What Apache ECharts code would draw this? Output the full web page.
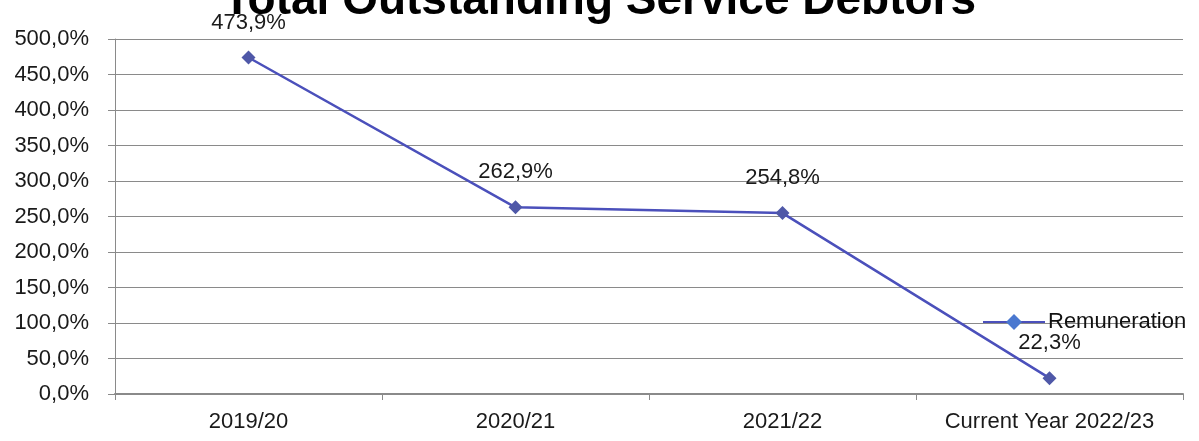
<!DOCTYPE html>
<html>
<head>
<meta charset="utf-8">
<title>Total Outstanding Service Debtors</title>
<script src="https://cdn.jsdelivr.net/npm/echarts@6/dist/echarts.min.js"></script>
<style>
  html, body { margin: 0; padding: 0; background: #ffffff; }
  #chart { width: 1199px; height: 441px; }
</style>
</head>
<body>
<div id="chart"></div>
<script>
// Outstanding service debtors as a share, by financial year
const categories = ['2019/20', '2020/21', '2021/22', 'Current Year 2022/23'];
const remuneration = [473.9, 262.9, 254.8, 22.3];

const fmtPct = v => v.toFixed(1).replace('.', ',') + '%';
const font = 'Liberation Sans, Arial, sans-serif';

const chart = echarts.init(document.getElementById('chart'));
chart.setOption({
  backgroundColor: '#ffffff',
  animation: false,
  title: {
    text: 'Total Outstanding Service Debtors',
    left: 'center',
    top: -27,
    textStyle: { fontFamily: font, fontSize: 46, fontWeight: 'bold', color: '#000000' }
  },
  legend: {
    left: 977,
    top: 306,
    itemWidth: 62,
    itemHeight: 20,
    itemGap: 0,
    itemStyle: { color: '#4a78d0' },
    textStyle: { fontFamily: font, fontSize: 22, color: '#111111', padding: [0, 0, 0, -2] },
    data: ['Remuneration']
  },
  grid: { left: 115, right: 16, top: 39, bottom: 47 },
  xAxis: {
    type: 'category',
    data: categories,
    boundaryGap: true,
    axisLine: { lineStyle: { color: '#8a8a8a', width: 2 } },
    axisTick: { show: true, interval: 0, length: 6, lineStyle: { color: '#8a8a8a' } },
    axisLabel: { interval: 0, fontFamily: font, fontSize: 22, color: '#1a1a1a', margin: 17 }
  },
  yAxis: {
    type: 'value',
    min: 0,
    max: 500,
    interval: 50,
    axisLine: { show: true, lineStyle: { color: '#8a8a8a' } },
    axisTick: { show: true, length: 7, lineStyle: { color: '#8a8a8a' } },
    axisLabel: { fontFamily: font, fontSize: 22, color: '#1a1a1a', margin: 26, formatter: v => fmtPct(v) },
    splitLine: { lineStyle: { color: '#8a8a8a', width: 1 } }
  },
  series: [{
    name: 'Remuneration',
    type: 'line',
    data: remuneration,
    symbol: 'diamond',
    symbolSize: 14,
    lineStyle: { color: '#4b50bb', width: 2.5 },
    itemStyle: { color: '#4f58a8' },
    label: {
      show: true,
      position: 'top',
      distance: 17,
      fontFamily: font,
      fontSize: 22,
      color: '#1a1a1a',
      formatter: p => fmtPct(p.value)
    }
  }]
});
</script>
</body>
</html>
